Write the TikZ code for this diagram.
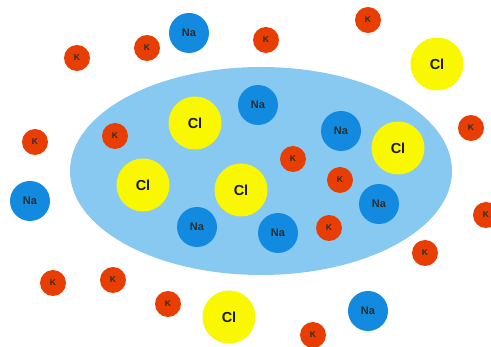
\documentclass[tikz,border=0pt]{standalone}
\usepackage{fontspec}
\setmainfont{Liberation Sans}
\definecolor{nablue}{RGB}{18, 138, 224}
\definecolor{kred}{RGB}{232, 62, 4}
\definecolor{clyellow}{RGB}{250, 248, 0}
\definecolor{poolblue}{RGB}{136, 201, 242}
\definecolor{iontext}{RGB}{45, 45, 45}
\usetikzlibrary{positioning}
\tikzset{
  na/.style={circle, fill=nablue, minimum size=40pt, inner sep=0pt, text=iontext, font=\fontsize{11}{11}\selectfont\bfseries},
  k/.style={circle, fill=kred, minimum size=26pt, inner sep=0pt, text=iontext, font=\fontsize{8.5}{8.5}\selectfont\bfseries},
  cl/.style={circle, fill=clyellow, minimum size=53pt, inner sep=0pt, text=black!90, font=\fontsize{14.5}{14.5}\selectfont\bfseries}
}

\begin{document}
\begin{tikzpicture}[x=1pt, y=-1pt]
  \useasboundingbox (0,0) rectangle (491,347);
  \clip (0,0) rectangle (491,347);

  % the solution pool
  \fill[poolblue] (261,171) ellipse [x radius=191pt, y radius=104pt];

  % chloride
  \node[cl] (cl1) at (437,64) {Cl};
  \node[cl] (cl2) at (195,123) {Cl};
  \node[cl] (cl3) at (398,148) {Cl};
  \node[cl] (cl4) at (143,185) {Cl};
  \node[cl] (cl5) at (241,190) {Cl};
  \node[cl] (cl6) at (229,317) {Cl};

  % sodium
  \node[na] (na1) at (189,33) {Na};
  \node[na] (na2) at (258,105) {Na};
  \node[na] (na3) at (341,131) {Na};
  \node[na] (na4) at (30,201) {Na};
  \node[na] (na5) at (197,227) {Na};
  \node[na] (na6) at (278,233) {Na};
  \node[na] (na7) at (379,204) {Na};
  \node[na] (na8) at (368,311) {Na};

  % potassium
  \node[k] (k1) at (77,58) {K};
  \node[k] (k2) at (147,48) {K};
  \node[k] (k3) at (266,40) {K};
  \node[k] (k4) at (368,20) {K};
  \node[k] (k5) at (115,136) {K};
  \node[k] (k6) at (35,142) {K};
  \node[k] (k7) at (471,128) {K};
  \node[k] (k8) at (293,159) {K};
  \node[k] (k9) at (340,180) {K};
  \node[k] (k10) at (329,228) {K};
  \node[k] (k11) at (425,253) {K};
  \node[k] (k12) at (486,215) {K};
  \node[k] (k13) at (53,283) {K};
  \node[k] (k14) at (113,280) {K};
  \node[k] (k15) at (168,304) {K};
  \node[k] (k16) at (313,335) {K};
\end{tikzpicture}
\end{document}
